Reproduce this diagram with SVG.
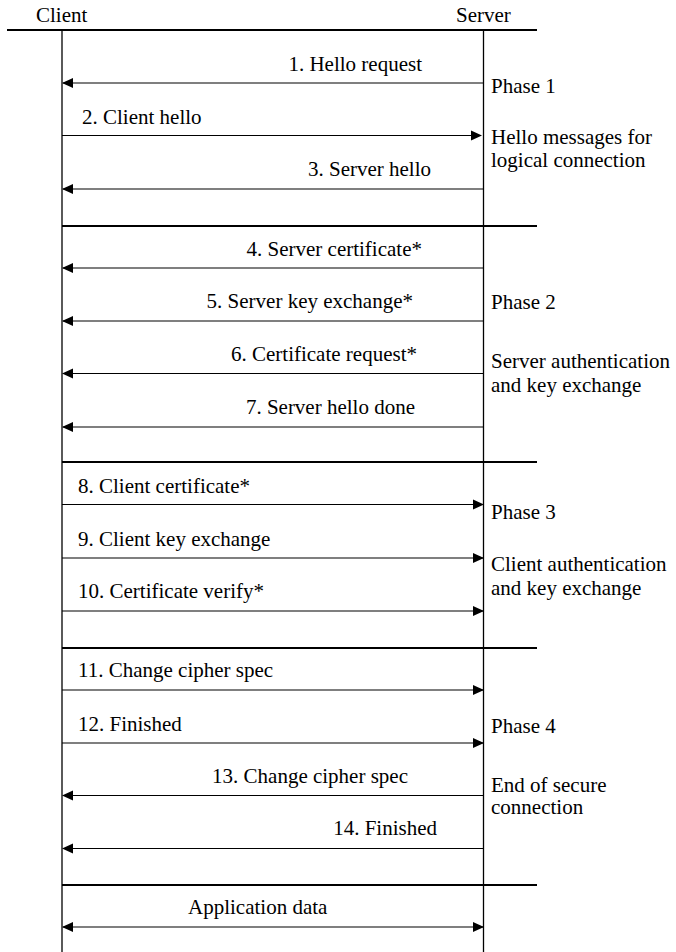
<svg xmlns="http://www.w3.org/2000/svg" width="676" height="952" viewBox="0 0 676 952" font-family="'Liberation Serif', 'Times New Roman', Times, serif" font-size="21">
<style>
text{font-family:"Liberation Serif","Times New Roman",Times,serif;font-size:21px;fill:#000}
.e{text-anchor:end}
.msg{stroke:#000;stroke-width:1.2;fill:none}
.sep{stroke:#000;stroke-width:2.2;fill:none}
.life{stroke:#000;stroke-width:1.3;fill:none}
</style>
<defs>
<marker id="ah" markerUnits="userSpaceOnUse" markerWidth="11" markerHeight="11" refX="10" refY="5" orient="auto-start-reverse" viewBox="0 0 11 10">
<path d="M0,0 L11,5 L0,10 z" fill="#000"/>
</marker>
</defs>
<rect width="676" height="952" fill="#fff"/>
<g id="client">
<text x="36" y="22">Client</text>
<line class="life" x1="62" y1="30" x2="62" y2="952"/>
</g>
<g id="server">
<text x="456" y="22">Server</text>
<line class="life" x1="483.5" y1="30" x2="483.5" y2="952"/>
</g>
<g id="separators">
<line class="sep" x1="7" y1="30" x2="537" y2="30"/>
<line class="sep" x1="62" y1="226" x2="537" y2="226"/>
<line class="sep" x1="62" y1="462" x2="537" y2="462"/>
<line class="sep" x1="62" y1="648" x2="537" y2="648"/>
<line class="sep" x1="62" y1="885" x2="537" y2="885"/>
</g>
<g id="connectors">
<line class="msg" x1="483" y1="83" x2="63" y2="83" marker-end="url(#ah)"/>
<line class="msg" x1="62" y1="135.5" x2="481" y2="135.5" marker-end="url(#ah)"/>
<line class="msg" x1="483" y1="189" x2="63" y2="189" marker-end="url(#ah)"/>
<line class="msg" x1="483" y1="268" x2="63" y2="268" marker-end="url(#ah)"/>
<line class="msg" x1="483" y1="321" x2="63" y2="321" marker-end="url(#ah)"/>
<line class="msg" x1="483" y1="373.5" x2="63" y2="373.5" marker-end="url(#ah)"/>
<line class="msg" x1="483" y1="427" x2="63" y2="427" marker-end="url(#ah)"/>
<line class="msg" x1="62" y1="504.5" x2="483" y2="504.5" marker-end="url(#ah)"/>
<line class="msg" x1="62" y1="558" x2="483" y2="558" marker-end="url(#ah)"/>
<line class="msg" x1="62" y1="611" x2="483" y2="611" marker-end="url(#ah)"/>
<line class="msg" x1="62" y1="690" x2="483" y2="690" marker-end="url(#ah)"/>
<line class="msg" x1="62" y1="743" x2="483" y2="743" marker-end="url(#ah)"/>
<line class="msg" x1="483" y1="795.5" x2="63" y2="795.5" marker-end="url(#ah)"/>
<line class="msg" x1="483" y1="848.5" x2="63" y2="848.5" marker-end="url(#ah)"/>
<line class="msg" x1="63" y1="927" x2="483" y2="927" marker-start="url(#ah)" marker-end="url(#ah)"/>
</g>
<g id="labels">
<text class="e" x="422" y="71">1. Hello request</text>
<text x="82" y="124">2. Client hello</text>
<text class="e" x="431" y="176">3. Server hello</text>
<text class="e" x="422" y="256">4. Server certificate*</text>
<text class="e" x="413" y="308">5. Server key exchange*</text>
<text class="e" x="417" y="361">6. Certificate request*</text>
<text class="e" x="415" y="414">7. Server hello done</text>
<text x="78" y="493">8. Client certificate*</text>
<text x="78" y="546">9. Client key exchange</text>
<text x="78" y="598">10. Certificate verify*</text>
<text x="78" y="677">11. Change cipher spec</text>
<text x="78" y="731">12. Finished</text>
<text class="e" x="408" y="783">13. Change cipher spec</text>
<text class="e" x="437" y="835">14. Finished</text>
<text x="188" y="914">Application data</text>
</g>
<g id="phase1">
<text x="491" y="93">Phase 1</text>
<text x="491" y="144">Hello messages for</text>
<text x="491" y="167">logical connection</text>
</g>
<g id="phase2">
<text x="491" y="309">Phase 2</text>
<text x="491" y="368">Server authentication</text>
<text x="491" y="392">and key exchange</text>
</g>
<g id="phase3">
<text x="491" y="519">Phase 3</text>
<text x="491" y="571">Client authentication</text>
<text x="491" y="595">and key exchange</text>
</g>
<g id="phase4">
<text x="491" y="733">Phase 4</text>
<text x="491" y="792">End of secure</text>
<text x="491" y="814">connection</text>
</g>
</svg>
